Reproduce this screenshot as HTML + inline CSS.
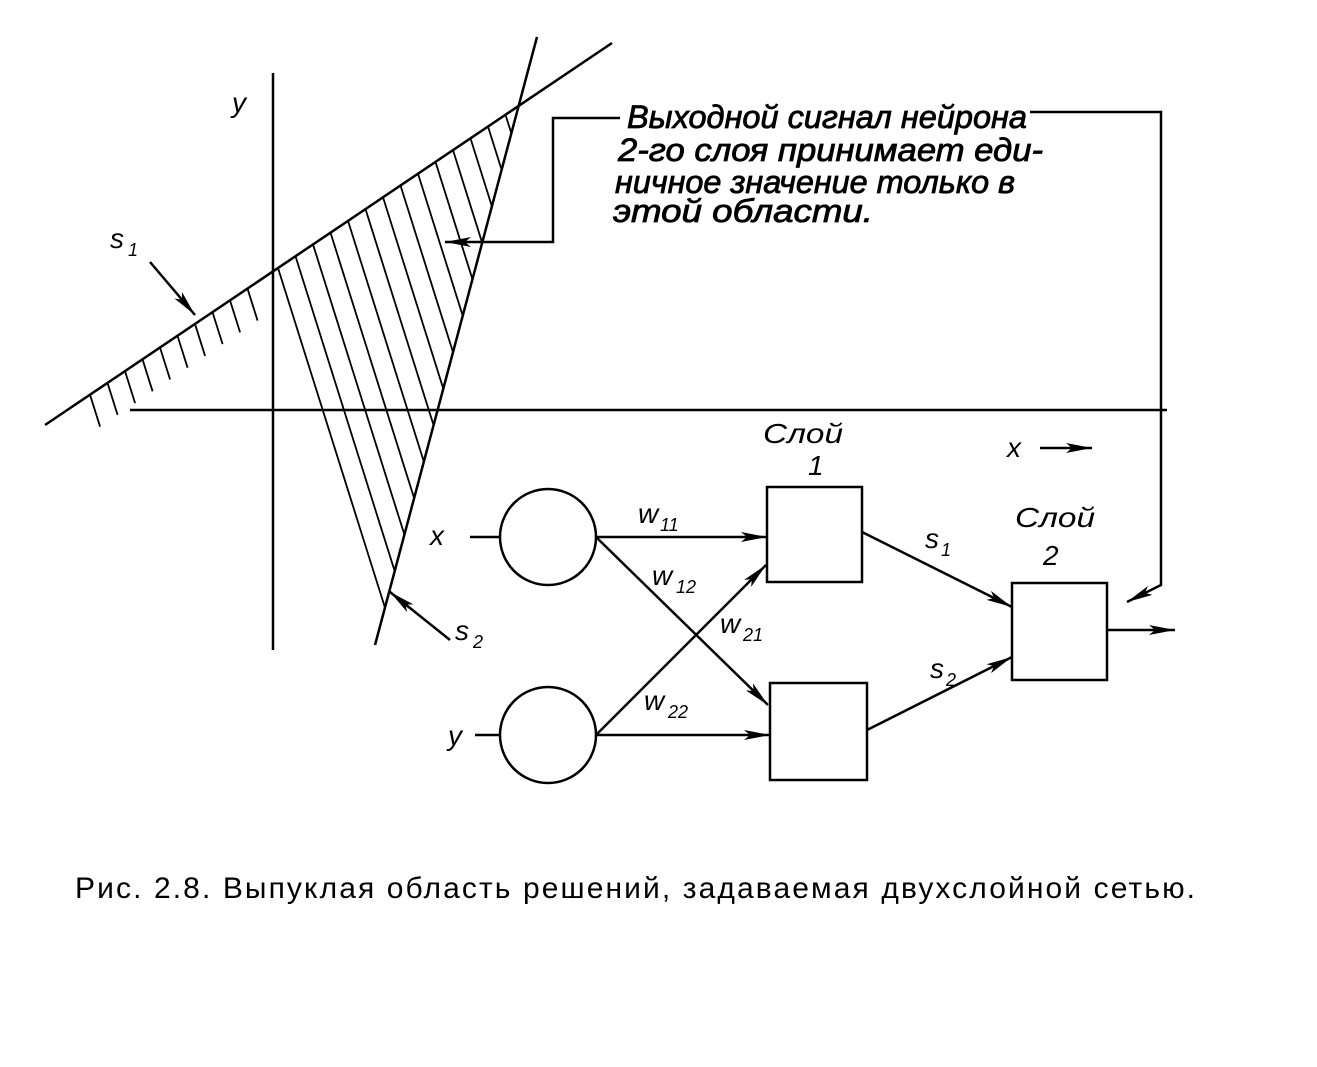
<!DOCTYPE html>
<html><head><meta charset="utf-8"><style>
html,body{margin:0;padding:0;background:#fff;}
svg{display:block;}
.i{font-family:"Liberation Sans","DejaVu Sans",sans-serif;font-style:italic;fill:#000;}
</style></head><body>
<svg width="1317" height="1067" viewBox="0 0 1317 1067" xmlns="http://www.w3.org/2000/svg">
<defs>
<clipPath id="tri"><polygon points="273,271 518.7,106 381.7,620"/></clipPath>
<marker id="ab" markerWidth="26" markerHeight="10" refX="26" refY="5" orient="auto" markerUnits="userSpaceOnUse"><path d="M0,0 L26,5 L0,10 L6,5 Z" fill="#000"/></marker>
</defs>
<g stroke="#000" stroke-width="2.5" fill="none">
<line x1="273" y1="73" x2="273" y2="650"/>
<line x1="130" y1="410" x2="1167" y2="410"/>
<line x1="45" y1="425" x2="612" y2="43"/>
<line x1="537" y1="37" x2="375" y2="645"/>
<polyline points="1030,112 1161,112 1161,585 1127,602" marker-end="url(#ab)"/>
<polyline points="620,118 553,118 553,242 445,242" marker-end="url(#ab)"/>
<line x1="150" y1="262" x2="195" y2="315" marker-end="url(#ab)"/>
<line x1="450" y1="640" x2="390" y2="592" marker-end="url(#ab)"/>
<line x1="1040" y1="448" x2="1092" y2="448" marker-end="url(#ab)"/>
</g>
<g stroke="#000" stroke-width="1.8" clip-path="url(#tri)" id="hatch"></g>
<g stroke="#000" stroke-width="1.8" id="ticks"></g>
<g stroke="#000" stroke-width="2.5" fill="none">
<circle cx="548" cy="537" r="48"/>
<circle cx="548" cy="735" r="48"/>
<rect x="767" y="487" width="95" height="95"/>
<rect x="770" y="683" width="97" height="97"/>
<rect x="1012" y="583" width="95" height="97"/>
<line x1="470" y1="537" x2="500" y2="537"/>
<line x1="475" y1="735" x2="500" y2="735"/>
<line x1="596" y1="537" x2="767" y2="537" marker-end="url(#ab)"/>
<line x1="596" y1="537" x2="768" y2="705" marker-end="url(#ab)"/>
<line x1="596" y1="735" x2="766" y2="565" marker-end="url(#ab)"/>
<line x1="596" y1="735" x2="770" y2="735" marker-end="url(#ab)"/>
<line x1="862" y1="532" x2="1012" y2="607" marker-end="url(#ab)"/>
<line x1="867" y1="730" x2="1012" y2="657" marker-end="url(#ab)"/>
<line x1="1107" y1="630" x2="1175" y2="630" marker-end="url(#ab)"/>
</g>
<g class="i" font-size="32" stroke="#000" stroke-width="0.8">
<text x="627" y="128" textLength="400" lengthAdjust="spacingAndGlyphs">Выходной сигнал нейрона</text>
<text x="618" y="161" textLength="425" lengthAdjust="spacingAndGlyphs">2-го слоя принимает еди-</text>
<text x="615" y="193" textLength="400" lengthAdjust="spacingAndGlyphs">ничное значение только в</text>
<text x="613" y="222" textLength="260" lengthAdjust="spacingAndGlyphs">этой области.</text>
</g>
<g class="i" font-size="28">
<text x="232" y="112">y</text>
<text x="110" y="248">s</text><text x="128" y="256" font-size="18">1</text>
<text x="455" y="640">s</text><text x="473" y="648" font-size="18">2</text>
<text x="1007" y="457">x</text>
<text x="430" y="545">x</text>
<text x="448" y="745">y</text>
<text x="638" y="523">w</text><text x="660" y="531" font-size="18">11</text>
<text x="652" y="585">w</text><text x="676" y="593" font-size="18">12</text>
<text x="720" y="633">w</text><text x="743" y="641" font-size="18">21</text>
<text x="644" y="710">w</text><text x="668" y="718" font-size="18">22</text>
<text x="925" y="548">s</text><text x="941" y="556" font-size="18">1</text>
<text x="930" y="678">s</text><text x="946" y="686" font-size="18">2</text>
<text x="763" y="443" textLength="80" lengthAdjust="spacingAndGlyphs">Слой</text>
<text x="808" y="475">1</text>
<text x="1015" y="527" textLength="80" lengthAdjust="spacingAndGlyphs">Слой</text>
<text x="1043" y="565">2</text>
</g>
<text x="75" y="898" font-family="Liberation Sans, sans-serif" font-size="30" textLength="1120" lengthAdjust="spacing">Рис. 2.8. Выпуклая область решений, задаваемая двухслойной сетью.</text>
<script>
var ns="http://www.w3.org/2000/svg";
var h=document.getElementById("hatch"),t=document.getElementById("ticks");
for(var x=278;x<=520;x+=17.5){var y=425-0.6737*(x-45);var l=document.createElementNS(ns,"line");l.setAttribute("x1",x);l.setAttribute("y1",y);l.setAttribute("x2",x+0.315*500);l.setAttribute("y2",y+500);h.appendChild(l);}
for(var x=90;x<=262;x+=17.5){var y=425-0.6737*(x-45);var l=document.createElementNS(ns,"line");l.setAttribute("x1",x);l.setAttribute("y1",y);l.setAttribute("x2",x+0.315*32);l.setAttribute("y2",y+32);t.appendChild(l);}
</script>
</svg>
</body></html>
